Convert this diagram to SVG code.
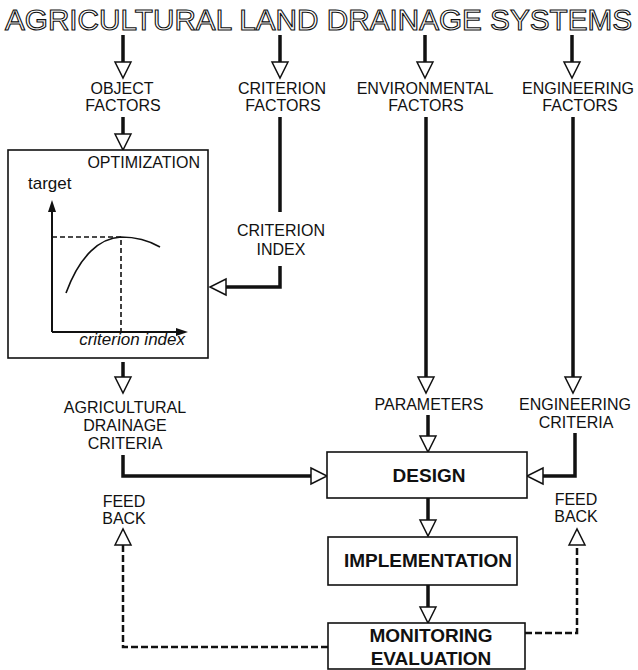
<svg xmlns="http://www.w3.org/2000/svg" width="638" height="670" viewBox="0 0 638 670">
<style>
text{font-family:"Liberation Sans",Arial,sans-serif;fill:#111}
.lbl{font-size:16px;text-anchor:middle}
.bold{font-size:19px;font-weight:bold;text-anchor:middle}
.title{font-size:29px;fill:#fff;stroke:#111;stroke-width:1.1px}
.box{fill:#fff;stroke:#111;stroke-width:1.6}
.conn{fill:none;stroke:#111;stroke-width:3.5;marker-end:url(#tri)}
.plain{fill:none;stroke:#111;stroke-width:3.5}
.dash{fill:none;stroke:#111;stroke-width:2.5;stroke-dasharray:7 3;marker-end:url(#tri)}
.axis{fill:none;stroke:#111;stroke-width:2;marker-end:url(#solid)}
.thin{fill:none;stroke:#111;stroke-width:1.6}
.gdash{fill:none;stroke:#111;stroke-width:1.6;stroke-dasharray:5 3}
</style>
<defs>
<marker id="tri" viewBox="-1 -10 19 20" refX="0" refY="0" markerWidth="19" markerHeight="20" markerUnits="userSpaceOnUse" orient="auto">
<path d="M0,-8 L16,0 L0,8 Z" fill="#fff" stroke="#111" stroke-width="1.5" stroke-dasharray="none"/>
</marker>
<marker id="solid" viewBox="0 -5 12 10" refX="0" refY="0" markerWidth="12" markerHeight="10" markerUnits="userSpaceOnUse" orient="auto">
<path d="M0,-4 L12,0 L0,4 Z" fill="#111"/>
</marker>
</defs>
<rect width="638" height="670" fill="#fff"/>

<g id="title">
<text class="title" x="5" y="29.5" textLength="627" lengthAdjust="spacingAndGlyphs">AGRICULTURAL LAND DRAINAGE SYSTEMS</text>
</g>

<g id="connectors">
<path class="conn" d="M123,35 V62"/>
<path class="conn" d="M280,35 V62"/>
<path class="conn" d="M425,35 V62"/>
<path class="conn" d="M572,35 V62"/>
<path class="conn" d="M123,117 V134"/>
<path class="plain" d="M280,117 V212"/>
<path class="conn" d="M280,266 V287 H226"/>
<path class="conn" d="M123,362 V377"/>
<path class="conn" d="M426,117 V377"/>
<path class="conn" d="M573,117 V377"/>
<path class="conn" d="M123,455 V476 H311"/>
<path class="conn" d="M428,415 V436"/>
<path class="conn" d="M575,433 V476 H543"/>
<path class="conn" d="M428,498 V520"/>
<path class="conn" d="M428,585 V607"/>
<path class="dash" d="M328,647 H123 V545"/>
<path class="dash" d="M525,633 H577 V545"/>
</g>

<g id="object-factors">
<text class="lbl" x="122" y="94">OBJECT</text>
<text class="lbl" x="123" y="111">FACTORS</text>
</g>
<g id="criterion-factors">
<text class="lbl" x="282" y="94">CRITERION</text>
<text class="lbl" x="283" y="111">FACTORS</text>
</g>
<g id="environmental-factors">
<text class="lbl" x="425" y="94">ENVIRONMENTAL</text>
<text class="lbl" x="426" y="111">FACTORS</text>
</g>
<g id="engineering-factors">
<text class="lbl" x="578" y="94">ENGINEERING</text>
<text class="lbl" x="580" y="111">FACTORS</text>
</g>

<g id="optimization">
<rect class="box" x="8" y="150" width="200" height="208"/>
<text class="lbl" x="200" y="168" style="text-anchor:end">OPTIMIZATION</text>
<text x="28" y="189" style="font-size:17px">target</text>
<path class="axis" d="M52,332 V212"/>
<path class="axis" d="M52,332 H176"/>
<path class="gdash" d="M52,237 H121 V332"/>
<path class="thin" d="M66,293 C80,255 100,238 121,237 C135,237 148,240 160,247"/>
<text x="185" y="345" style="font-size:17px;font-style:italic;text-anchor:end">criterion index</text>
</g>

<g id="criterion-index">
<text class="lbl" x="281" y="236">CRITERION</text>
<text class="lbl" x="281" y="255">INDEX</text>
</g>

<g id="agricultural-drainage-criteria">
<text class="lbl" x="125" y="413">AGRICULTURAL</text>
<text class="lbl" x="125" y="431">DRAINAGE</text>
<text class="lbl" x="125" y="449">CRITERIA</text>
</g>

<g id="parameters">
<text class="lbl" x="429" y="410">PARAMETERS</text>
</g>

<g id="engineering-criteria">
<text class="lbl" x="575" y="410">ENGINEERING</text>
<text class="lbl" x="576" y="428">CRITERIA</text>
</g>

<g id="design">
<rect class="box" x="327" y="452" width="200" height="46"/>
<text class="bold" x="429" y="482">DESIGN</text>
</g>

<g id="implementation">
<rect class="box" x="328" y="537" width="189" height="48"/>
<text class="bold" x="428" y="567">IMPLEMENTATION</text>
</g>

<g id="monitoring-evaluation">
<rect class="box" x="328" y="623" width="197" height="46"/>
<text class="bold" x="431" y="642">MONITORING</text>
<text class="bold" x="431" y="665">EVALUATION</text>
</g>

<g id="feedback-left">
<text class="lbl" x="124" y="507">FEED</text>
<text class="lbl" x="124" y="524">BACK</text>
</g>
<g id="feedback-right">
<text class="lbl" x="576" y="505">FEED</text>
<text class="lbl" x="576" y="522">BACK</text>
</g>
</svg>
